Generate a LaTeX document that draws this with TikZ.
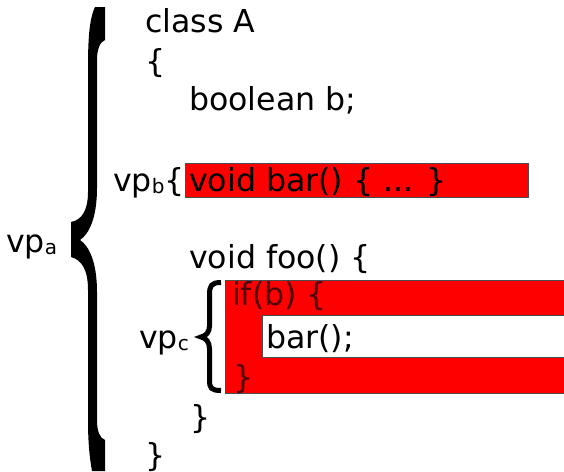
\documentclass[tikz,border=0pt]{standalone}
\usepackage{fontspec}
\setmainfont{DejaVu Sans}
\newcommand\vpsub[1]{\raisebox{-2.5pt}{\fontsize{20}{20}\selectfont #1}}
\begin{document}
\begin{tikzpicture}[x=1pt,y=-1pt,
  code/.style={anchor=base west,inner sep=0pt,font=\fontsize{31.6}{37}\selectfont},
  hlbox/.style={fill=red,draw=black!70,line width=1pt},
  plainbox/.style={fill=white,draw=black!70,line width=1pt},
  thickbrace/.style={draw=black,line width=5pt,line cap=butt}]
\clip (0,0) rectangle (564,471);

% highlighted regions
\draw[hlbox] (185,163) rectangle (528,197);
\draw[hlbox] (225,280) rectangle (580,393);
\draw[plainbox] (262,315) rectangle (580,357);

% source lines
\node[code] (cls)   at (145,32)  {class A};
\node[code] (open)  at (145,72)  {\{};
\node[code] (field) at (189,110) {boolean b;};
\node[code] (vpb)   at (113,191) {vp\vpsub{b}\{};
\node[code] (bar)   at (189,191) {void bar() \{ ... \}};
\node[code] (foo)   at (189,268) {void foo() \{};
\node[code,text=red!30!black] (ifb) at (232,305) {if(b) \{};
\node[code] (call)  at (266,348) {bar();};
\node[code] (vpc)   at (139,348) {vp\vpsub{c}};
\node[code,text=red!30!black] (ifend) at (233,388) {\}};
\node[code] (fooend) at (190,428) {\}};
\node[code] (clsend) at (145,466) {\}};
\node[code] (vpa)   at (6,252)   {vp\vpsub{a}};

% small brace around the if block
\draw[thickbrace] (221,282.5) .. controls (211,282.5) and (209.5,286) .. (209.5,295)
  -- (209.5,326) .. controls (209.5,332) and (206,336) .. (201,337)
  .. controls (206,338) and (209.5,342) .. (209.5,349)
  -- (209.5,380) .. controls (209.5,388) and (211,390.5) .. (221,390.5);

% large brace around the whole class
\fill (95,7) .. controls (89,20) and (88,40) .. (88,70) -- (88,192)
  .. controls (88,210) and (82,220) .. (71,222) -- (71,257)
  .. controls (82,260) and (88,270) .. (88,290) -- (88,420)
  .. controls (88,445) and (90,460) .. (92,471) -- (105,471) -- (105,440)
  .. controls (100,438) and (97,432) .. (97,420) -- (97,292)
  .. controls (97,262) and (89,246) .. (80,240)
  .. controls (89,234) and (97,218) .. (97,188) -- (97,60)
  .. controls (97,49) and (100,42) .. (105,40) -- (105,7) -- cycle;
\end{tikzpicture}
\end{document}
